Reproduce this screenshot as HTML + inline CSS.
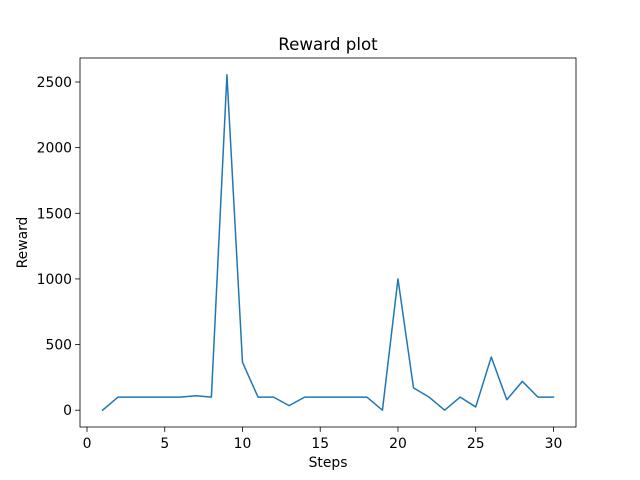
<!DOCTYPE html>
<html><head><meta charset="utf-8"><style>
html,body{margin:0;padding:0;background:#fff;}
svg{display:block;font-family:"DejaVu Sans","Liberation Sans",sans-serif;}
</style></head><body>
<svg id="chart" width="640" height="480">
<rect width="640" height="480" fill="#fff"/>
<text x="328" y="50" font-size="16.7" text-anchor="middle">Reward plot</text>
<g id="axes"></g>
<text x="328" y="467" font-size="13.9" text-anchor="middle">Steps</text>
<text transform="translate(27,242.5) rotate(-90)" font-size="13.9" text-anchor="middle">Reward</text>
</svg>
<script>
const steps = [1,2,3,4,5,6,7,8,9,10,11,12,13,14,15,16,17,18,19,20,21,22,23,24,25,26,27,28,29,30];
const rewards = [0,100,100,100,100,100,110,100,2555,365,100,100,35,100,100,100,100,100,0,1000,170,100,0,100,25,405,80,220,100,100];
const xTicks = [0,5,10,15,20,25,30];
const yTicks = [0,500,1000,1500,2000,2500];

const L=80,R=576,T=58,B=427;
const xmin=Math.min(...steps),xmax=Math.max(...steps);
const ymin0=Math.min(...rewards),ymax0=Math.max(...rewards);
const xm=(xmax-xmin)*0.05, ym=(ymax0-ymin0)*0.05;
const X0=xmin-xm,X1=xmax+xm,Y0=ymin0-ym,Y1=ymax0+ym;
const sx=v=>L+(v-X0)/(X1-X0)*(R-L);
const sy=v=>B-(v-Y0)/(Y1-Y0)*(B-T);
const NS="http://www.w3.org/2000/svg";
const g=document.getElementById('axes');
function mk(tag,attrs){const e=document.createElementNS(NS,tag);for(const k in attrs)e.setAttribute(k,attrs[k]);g.appendChild(e);return e;}

xTicks.forEach(t=>{
  const x=sx(t);
  const l=mk('line',{x1:x,x2:x,y1:B,y2:B+4.9,stroke:'#000','stroke-width':0.8});
  
  
  const tx=mk('text',{x:x,y:B+21,'font-size':13.9,'text-anchor':'middle'});
  tx.textContent=t;
  
  
});
yTicks.forEach(t=>{
  const y=sy(t);
  const l=mk('line',{x1:L-4.9,x2:L,y1:y,y2:y,stroke:'#000','stroke-width':0.8});
  
  
  const tx=mk('text',{x:L-8,y:y+5,'font-size':13.9,'text-anchor':'end'});
  tx.textContent=t;
  
  
});
const pts=steps.map((s,i)=>sx(s)+','+sy(rewards[i])).join(' ');
const line=mk('polyline',{points:pts,fill:'none',stroke:'#1f77b4','stroke-width':1.5,'stroke-linejoin':'round','stroke-linecap':'square'});


const fr=mk('rect',{x:L,y:T,width:R-L,height:B-T,fill:'none',stroke:'#000','stroke-width':0.8});


</script>
</body></html>
